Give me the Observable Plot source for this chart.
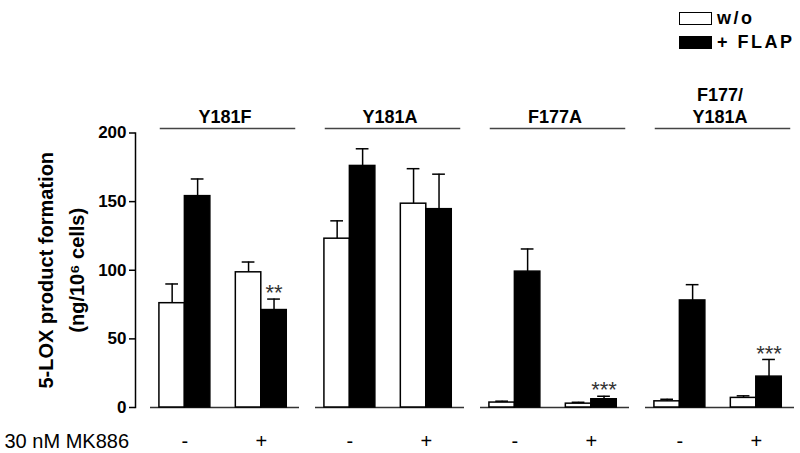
<!DOCTYPE html>
<html>
<head>
<meta charset="utf-8">
<script src="https://cdn.jsdelivr.net/npm/d3@7"></script>
<script src="https://cdn.jsdelivr.net/npm/@observablehq/plot@0.6"></script>
<style>
  html, body { margin: 0; padding: 0; background: #fff; }
  #wrap { position: relative; width: 800px; height: 453px; font-family: "Liberation Sans", Arial, sans-serif; }
  #legend { position: absolute; left: 679px; top: 6px; font-weight: bold; font-size: 18px; letter-spacing: 2.5px; }
  .item { display: flex; align-items: center; height: 24px; }
  .sw { width: 31px; height: 11px; border: 1.5px solid #000; margin-right: 5px; }
</style>
</head>
<body>
<div id="wrap">
  <div id="chart"></div>
  <div id="legend"></div>
</div>
<script>
// ---- data ----
const groups = ["Y181F", "Y181A", "F177A", "F177/\nY181A"];
const treatments = ["-", "+"];            // 30 nM MK886 absent / present
const seriesNames = ["w/o", "+ FLAP"];
// order: group0 -, group0 +, group1 -, group1 +, ...
const woMean   = [76, 98.5, 123, 148.5, 3.6, 2.8, 4.5, 7];
const woSem    = [14, 7.5, 13, 25.5, 1, 1, 1.5, 1.5];
const flapMean = [154, 71, 176, 144.5, 99, 6, 78, 22.5];
const flapSem  = [12.5, 8, 12.5, 25.5, 16.5, 2.2, 11.5, 12.5];
const flapSig  = ["", "**", "", "", "", "***", "", "***"];
const yTicks = [0, 50, 100, 150, 200];
const yTitle = "5-LOX product formation\n(ng/10\u2076 cells)";
const xTitle = "30 nM MK886";

// ---- table ----
const rows = [];
const labelRows = [];
groups.forEach((g, gi) => treatments.forEach((t, ti) => {
  const k = gi * 2 + ti;
  rows.push({group: g, treatment: t, series: seriesNames[0], slot: ti * 3, value: woMean[k], err: woSem[k], sig: ""});
  rows.push({group: g, treatment: t, series: seriesNames[1], slot: ti * 3 + 1, value: flapMean[k], err: flapSem[k], sig: flapSig[k]});
  labelRows.push({group: g, treatment: t, pos: ti * 3 + 1});
}));

const chart = Plot.plot({
  width: 800,
  height: 453,
  marginLeft: 148,
  marginRight: 4,
  marginTop: 132.5,
  marginBottom: 46,
  style: {fontFamily: '"Liberation Sans", Arial, sans-serif', background: "#fff", color: "#000", overflow: "visible"},
  fx: {domain: groups, paddingInner: 0.096, paddingOuter: 0, axis: null},
  x: {domain: [-0.35, 5.5], axis: null},
  y: {domain: [0, 200]},
  marks: [
    Plot.ruleY([0], {stroke: "#333", strokeWidth: 1.5}),
    Plot.frame({anchor: "top", dy: -4.5, insetLeft: 10, insetRight: 5, stroke: "#444", strokeWidth: 1.5}),
    Plot.rectY(rows, {fx: "group", x1: "slot", x2: d => d.slot + 1, y1: 0, y2: "value",
      fill: d => d.series === seriesNames[0] ? "#fff" : "#000", stroke: "#000", strokeWidth: 1.5}),
    Plot.ruleX(rows, {fx: "group", x: d => d.slot + 0.5, y1: "value", y2: d => d.value + d.err, stroke: "#000", strokeWidth: 1.5}),
    Plot.ruleY(rows, {fx: "group", y: d => d.value + d.err, x1: d => d.slot + 0.25, x2: d => d.slot + 0.75, stroke: "#000", strokeWidth: 1.5}),
    Plot.text(rows.filter(d => d.sig), {fx: "group", x: d => d.slot + 0.5, y: d => d.value + d.err, text: "sig",
      dy: -6, fontSize: 22, letterSpacing: 1.5, fill: "#333", lineAnchor: "middle"}),
    Plot.text(groups, {fx: d => d, text: d => d, frameAnchor: "top", dy: -10.5, lineAnchor: "bottom",
      fontSize: 18, fontWeight: "bold", lineHeight: 1.22}),
    Plot.text(labelRows, {fx: "group", x: "pos", text: "treatment", frameAnchor: "bottom", dy: 34, lineAnchor: "middle", fontSize: 20}),
    Plot.text([xTitle], {text: d => d, frameAnchor: "bottom-left", facetAnchor: "left", dx: -146, dy: 34,
      textAnchor: "start", lineAnchor: "middle", fontSize: 20}),
    Plot.frame({anchor: "left", dx: -15, facetAnchor: "left", stroke: "#000", strokeWidth: 1.5}),
    Plot.axisY({ticks: yTicks, tickSize: 6, tickPadding: 3, dx: -15, fontSize: 17, fontWeight: "bold",
      tickFormat: d => String(d), strokeWidth: 1.5, label: null}),
    Plot.text([yTitle], {text: d => d, frameAnchor: "left", facetAnchor: "left", rotate: -90, dx: -92, dy: 0,
      textAnchor: "middle", lineAnchor: "middle", fontSize: 20, fontWeight: "bold", lineHeight: 1.55, letterSpacing: 1.2})
  ]
});
document.getElementById("chart").appendChild(chart);

// legend
const legend = document.getElementById("legend");
seriesNames.forEach((s, i) => {
  const it = document.createElement("div");
  it.className = "item";
  const sw = document.createElement("div");
  sw.className = "sw";
  sw.style.background = i === 0 ? "#fff" : "#000";
  const tx = document.createElement("span");
  tx.textContent = s;
  it.appendChild(sw); it.appendChild(tx);
  legend.appendChild(it);
});
</script>
</body>
</html>
